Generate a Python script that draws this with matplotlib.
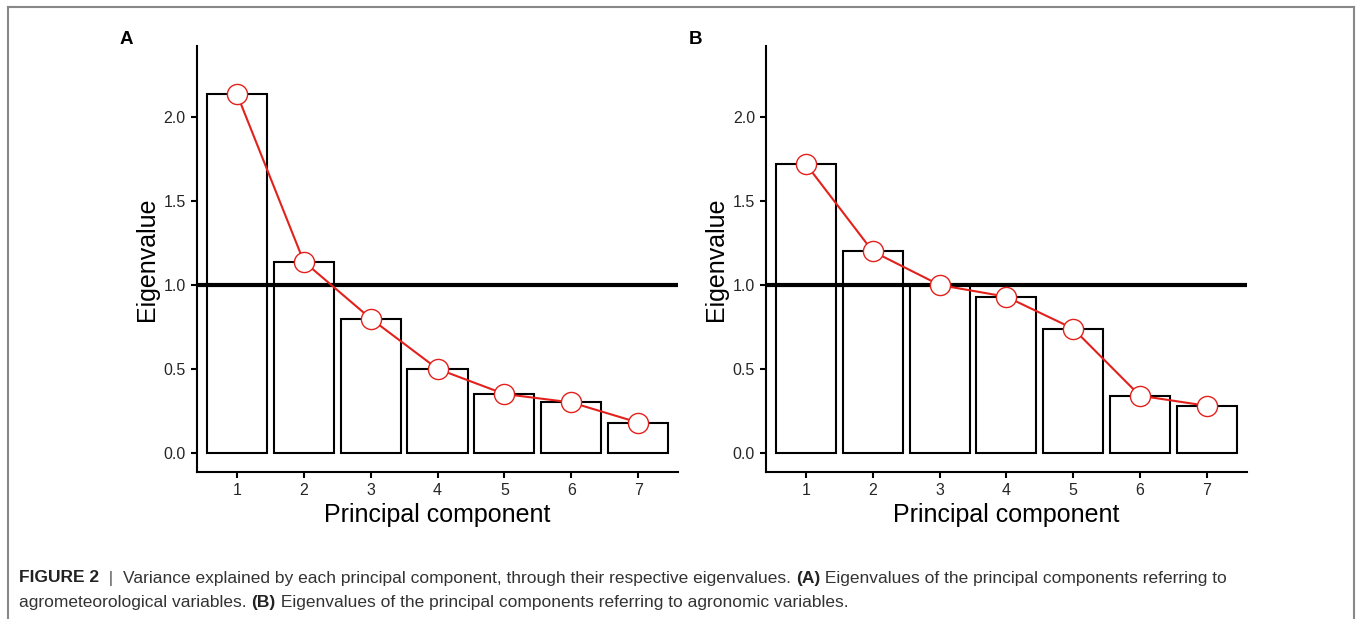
import matplotlib
matplotlib.use("Agg")
from matplotlib import pyplot as plt

components = [1, 2, 3, 4, 5, 6, 7]
eig_agromet = [2.14, 1.14, 0.80, 0.50, 0.35, 0.30, 0.18]
eig_agronomic = [1.72, 1.20, 1.00, 0.93, 0.74, 0.34, 0.28]
panel_letters = ["A", "B"]
kaiser_cut = 1.0

plt.rcParams["font.family"] = ["Liberation Sans", "DejaVu Sans"]

fig = plt.figure(figsize=(13.56, 6.19), dpi=100)

red = "#e3211c"
axes_pos = [[0.1451, 0.238, 0.3551, 0.6877],
            [0.5649, 0.238, 0.3545, 0.6877]]

for pos, vals, letter in zip(axes_pos, [eig_agromet, eig_agronomic], panel_letters):
    ax = fig.add_axes(pos)
    ax.bar(components, vals, width=0.9, facecolor="white", edgecolor="black",
           linewidth=1.5, zorder=2)
    ax.axhline(kaiser_cut, color="black", linewidth=3, zorder=3)
    ax.plot(components, vals, color=red, linewidth=1.5, marker="o",
            markersize=14.5, markerfacecolor="white", markeredgecolor=red,
            markeredgewidth=1.0, zorder=4)
    ax.set_xlim(0.4, 7.6)
    ax.set_ylim(-0.113, 2.425)
    ax.set_xticks(components)
    ax.set_yticks([0.0, 0.5, 1.0, 1.5, 2.0])
    ax.set_yticklabels(["0.0", "0.5", "1.0", "1.5", "2.0"])
    for side in ["top", "right"]:
        ax.spines[side].set_visible(False)
    for side in ["left", "bottom"]:
        ax.spines[side].set_linewidth(1.5)
    ax.tick_params(length=4, width=1.5, labelsize=11.5, labelcolor="#262626", pad=4)
    ax.set_xlabel("Principal component", fontsize=18, labelpad=4)
    ax.set_ylabel("Eigenvalue", fontsize=18, labelpad=3)
    ax.text(-0.16, 0.995, letter, transform=ax.transAxes, fontsize=13.5,
            fontweight="bold", ha="left", va="bottom")

# frame round the figure
fig.add_artist(plt.Line2D([8 / 1356, 8 / 1356], [0, 1 - 7 / 619], color="#888888", linewidth=1.5))
fig.add_artist(plt.Line2D([1353.5 / 1356, 1353.5 / 1356], [0, 1 - 7 / 619], color="#888888", linewidth=1.5))
fig.add_artist(plt.Line2D([8 / 1356, 1353.5 / 1356], [1 - 7 / 619, 1 - 7 / 619], color="#888888", linewidth=1.5))

# caption, drawn piece by piece so the bold parts sit inline
line1 = [("FIGURE 2", True, "#222222"), ("  |  ", False, "#555555"),
         ("Variance explained by each principal component, through their respective eigenvalues. ", False, "#333333"),
         ("(A)", True, "#222222"),
         (" Eigenvalues of the principal components referring to", False, "#333333")]
line2 = [("agrometeorological variables. ", False, "#333333"), ("(B)", True, "#222222"),
         (" Eigenvalues of the principal components referring to agronomic variables.", False, "#333333")]

renderer = fig.canvas.get_renderer()
for pieces, ypix in [(line1, 578), (line2, 602)]:
    x = 19 / 1356
    for txt, bold, col in pieces:
        t = fig.text(x, 1 - ypix / 619, txt, fontsize=12.5, color=col, va="center",
                     fontweight="bold" if bold else "normal")
        x += t.get_window_extent(renderer).width / 1356

fig.savefig("out.png", dpi=100)
